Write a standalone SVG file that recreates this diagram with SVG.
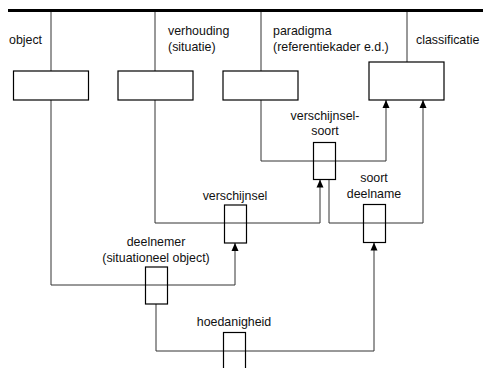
<svg xmlns="http://www.w3.org/2000/svg" width="483" height="368" viewBox="0 0 483 368">
<style>
text{font-family:"Liberation Sans",Arial,sans-serif;font-size:12.4px;fill:#111}
.b{fill:#fff;stroke:#000;stroke-width:1.2}
.s{fill:none;stroke:#000;stroke-width:1.2}
.c{fill:none;stroke:#333;stroke-width:1}
.m{text-anchor:middle}
</style>
<defs>
<marker id="a" viewBox="0 0 8 8" refX="8" refY="4" markerWidth="8" markerHeight="8" markerUnits="userSpaceOnUse" orient="auto">
<path d="M0,0.5 L8,4 L0,7.5 Z" fill="#000"/>
</marker>
</defs>
<line x1="8" y1="10.5" x2="483" y2="10.5" stroke="#000" stroke-width="3"/>
<g id="connectors">
<line class="c" x1="51" y1="12" x2="51" y2="71"/>
<line class="c" x1="155" y1="12" x2="155" y2="71"/>
<line class="c" x1="261" y1="12" x2="261" y2="71"/>
<line class="c" x1="407" y1="12" x2="407" y2="62"/>
<path class="c" d="M261,100 V161 H386 V100" marker-end="url(#a)"/>
<path class="c" d="M155,100 V223 H320 V179.5" marker-end="url(#a)"/>
<path class="c" d="M329,179 V223 H423 V100" marker-end="url(#a)"/>
<path class="c" d="M51,100 V285 H235 V243" marker-end="url(#a)"/>
<path class="c" d="M156,304 V351 H374 V242.5" marker-end="url(#a)"/>
</g>
<g id="object"><rect class="b" x="13.5" y="71" width="75" height="29"/><text x="9" y="44">object</text></g>
<g id="verhouding"><rect class="b" x="118" y="71" width="75" height="29"/><text x="168" y="35">verhouding</text><text x="168" y="51">(situatie)</text></g>
<g id="paradigma"><rect class="b" x="223" y="71" width="75" height="29"/><text x="273" y="35">paradigma</text><text x="273" y="51">(referentiekader e.d.)</text></g>
<g id="classificatie"><rect class="b" x="369" y="62" width="75" height="38"/><text x="416" y="44">classificatie</text></g>
<g id="verschijnselsoort"><rect class="s" x="313.5" y="142.5" width="22" height="37"/><text class="m" x="325" y="120">verschijnsel-</text><text class="m" x="325" y="135">soort</text></g>
<g id="verschijnsel"><rect class="s" x="224.5" y="205" width="22" height="38"/><text class="m" x="235" y="200">verschijnsel</text></g>
<g id="soortdeelname"><rect class="s" x="363.5" y="204.5" width="22" height="38"/><text class="m" x="374" y="182">soort</text><text class="m" x="374" y="198">deelname</text></g>
<g id="deelnemer"><rect class="s" x="145.5" y="267" width="22" height="37"/><text class="m" x="156" y="246">deelnemer</text><text class="m" x="156" y="262">(situationeel object)</text></g>
<g id="hoedanigheid"><rect class="s" x="223.5" y="332.5" width="22" height="40"/><text class="m" x="234" y="326">hoedanigheid</text></g>
</svg>
